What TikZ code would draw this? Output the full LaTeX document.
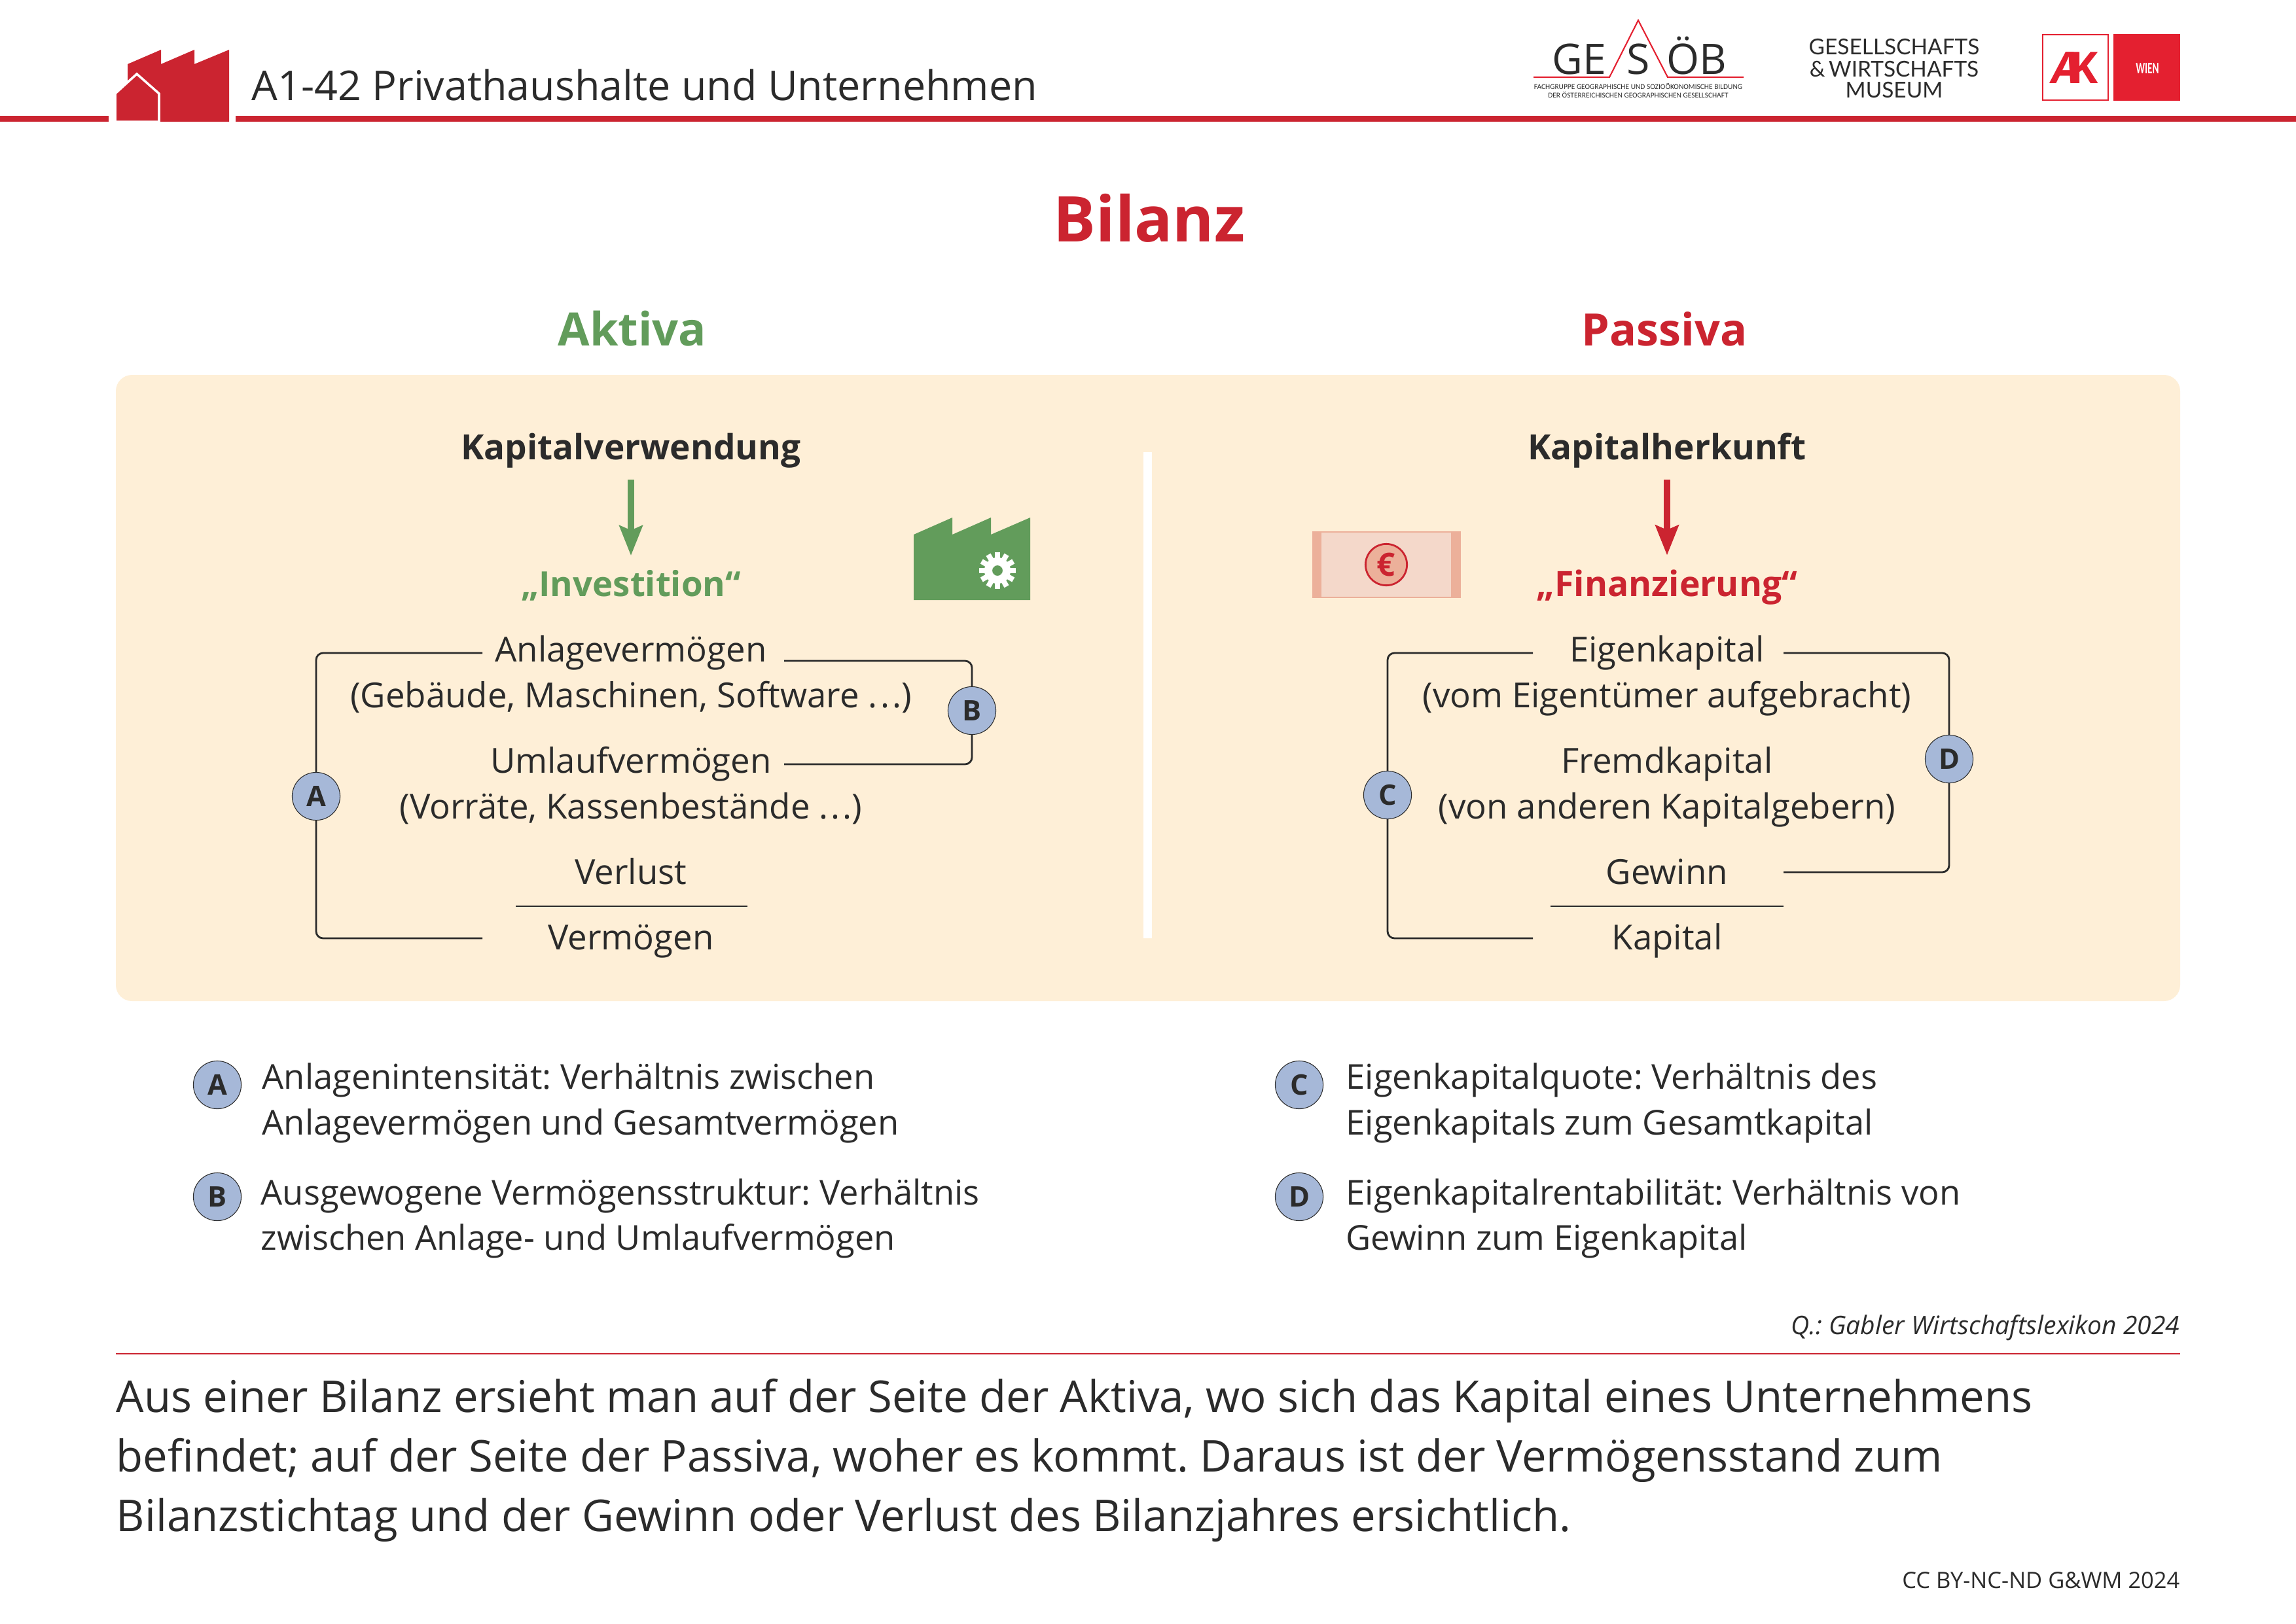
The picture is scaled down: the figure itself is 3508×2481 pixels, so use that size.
\documentclass[tikz,border=0pt]{standalone}
\usepackage{fontspec}
\setmainfont{Open Sans}
\newfontfamily\logofont{Carlito}
\newfontfamily\museumfont{Lato}
\usetikzlibrary{arrows.meta}

\definecolor{rot}{HTML}{CB2430}
\definecolor{akrot}{HTML}{E42030}
\definecolor{gruen}{HTML}{629C5B}
\definecolor{ink}{HTML}{2B2B2B}
\definecolor{panel}{HTML}{FEEFD7}
\definecolor{kreis}{HTML}{A6B8D8}
\definecolor{noterand}{HTML}{ECB09A}
\definecolor{notefill}{HTML}{F4D8CA}

\newcommand{\pkte}{.\kern1.2pt.\kern1.2pt.}

\tikzset{
    txt/.style={anchor=base, inner sep=0pt, text=ink, font=\frenchspacing\fontsize{15}{18}\selectfont},
    headbold/.style={txt, font=\fontsize{15.1}{18}\selectfont\bfseries},
    legtxt/.style={txt, anchor=base west, font=\frenchspacing\fontsize{14.9}{18}\selectfont},
    abstxt/.style={txt, anchor=base west, font=\frenchspacing\fontsize{19.05}{24}\selectfont},
    marker/.style={circle, draw=ink, line width=0.3pt, fill=kreis, minimum size=20.8pt, inner sep=0pt, text=ink, font=\fontsize{12.3}{15}\selectfont\bfseries},
    bracket/.style={draw=ink, line width=0.8pt, rounded corners=3pt},
    kapfeil/.style={line width=2.6pt, -{Stealth[length=13pt, width=10pt, inset=2pt]}, shorten <=5pt, shorten >=6pt}
}

\begin{document}
\begin{tikzpicture}[x=0.01cm, y=-0.01cm]
    \useasboundingbox (0,0) rectangle (3508,2481);

    % Kopfzeile
    \fill[rot] (0,177) rectangle (166,186);
    \fill[rot] (360,177) rectangle (3508,186);
    \fill[rot] (195,98) -- (246,76) -- (246,98) -- (297,76) -- (297,98) -- (350,76) -- (350,186) -- (195,186) -- cycle;
    \fill[rot, draw=white, line width=1pt] (176,186) -- (176,143) -- (209,113) -- (243,143) -- (243,186) -- cycle;
    \node[txt, anchor=base west, text=ink, font=\fontsize{17.85}{22}\selectfont] (kopf) at (384,153) {A1-42 Privathaushalte und Unternehmen};

    % Logo links
    \node[txt, font=\fontsize{18.3}{22}\selectfont] (lgGE) at (2413,113) {GE};
    \node[txt, font=\fontsize{18.3}{22}\selectfont] (lgS) at (2503,113) {S};
    \node[txt, font=\fontsize{18.3}{22}\selectfont] (lgOB) at (2592,113) {ÖB};
    \draw[akrot, line width=0.6pt] (2343,118) -- (2459,118) -- (2503,31) -- (2548,118) -- (2664,118);
    \node[txt, font=\logofont\fontsize{3.25}{4}\selectfont] (lgA) at (2503,136) {FACHGRUPPE GEOGRAPHISCHE UND SOZIOÖKONOMISCHE BILDUNG};
    \node[txt, font=\logofont\fontsize{3.25}{4}\selectfont] (lgB) at (2503,149) {DER ÖSTERREICHISCHEN GEOGRAPHISCHEN GESELLSCHAFT};

    % Logo Mitte
    \node[txt, font=\museumfont\fontsize{9.5}{10}\selectfont] (musA) at (2894,83) {GESELLSCHAFTS};
    \node[txt, font=\museumfont\fontsize{9.5}{10}\selectfont] (musB) at (2894,117) {\&\,WIRTSCHAFTS};
    \node[txt, font=\museumfont\fontsize{9.5}{10}\selectfont] (musC) at (2894,149) {MUSEUM};

    % Logo rechts
    \draw[akrot, line width=0.7pt] (3121,53) rectangle (3221,153);
    \fill[akrot] (3229,52) rectangle (3331,154);
    \node[txt, text=akrot, font=\fontsize{19}{20}\selectfont\bfseries] (ak) at (3171,127) {{\itshape A}\kern-4.5pt K};
    \node[txt, text=white, font=\logofont\fontsize{7}{8}\selectfont\bfseries, xscale=0.62, transform shape] (wien) at (3281,112) {WIEN};

    % Titel
    \node[txt, text=rot, font=\fontsize{27.4}{32}\selectfont\bfseries] (titel) at (1756,369) {Bilanz};
    \node[txt, text=gruen, font=\fontsize{20}{24}\selectfont\bfseries] (aktiva) at (966,528) {Aktiva};
    \node[txt, text=rot, font=\fontsize{19.4}{24}\selectfont\bfseries] (passiva) at (2543,528) {Passiva};

    % Hintergrund
    \fill[panel, rounded corners=7pt] (177,573) rectangle (3331,1530);
    \draw[white, line width=3.7pt] (1753.5,691) -- (1753.5,1434);

    % Fabrik
    \fill[gruen] (1396,917) -- (1396,817) -- (1455,791) -- (1455,817) -- (1514,791) -- (1514,817) -- (1574,791) -- (1574,917) -- cycle;
    \foreach \w in {0,30,...,330}
        \fill[white, rotate around={\w:(1524,872)}] (1520,844) rectangle (1528,860);
    \fill[white, even odd rule] (1524,872) circle (20) (1524,872) circle (8);

    % Geldschein
    \fill[noterand] (2005,812) rectangle (2232,914);
    \fill[notefill] (2019,814) rectangle (2217,912);
    \node[circle, draw=rot, line width=0.8pt, fill=noterand, minimum size=18pt, inner sep=0pt, text=rot, font=\fontsize{14}{16}\selectfont\bfseries] (euro) at (2118,863) {€};

    % Aktiva
    \node[headbold] (kapv) at (964,702) {Kapitalverwendung};
    \node[txt, text=gruen, font=\fontsize{15}{18}\selectfont\bfseries] (inv) at (964,911) {„Investition“};
    \draw[kapfeil, gruen] (kapv.south) -- (inv.north);
    \node[txt] (anl) at (964,1011) {Anlagevermögen};
    \node[txt] (anlb) at (964,1081) {(Gebäude, Maschinen, Software \pkte)};
    \node[txt] (uml) at (964,1181) {Umlaufvermögen};
    \node[txt] (umlb) at (964,1251) {(Vorräte, Kassenbestände \pkte)};
    \node[txt] (verl) at (964,1351) {Verlust};
    \node[txt] (verm) at (964,1451) {Vermögen};
    \draw[bracket] (788,1385) -- (1142,1385);
    \node[marker] (mA) at (483,1217) {A};
    \node[marker] (mB) at (1485,1086) {B};
    \coordinate (aoben) at (737,998);
    \coordinate (aunten) at (737,1434);
    \coordinate (boben) at (1198,1010);
    \coordinate (bunten) at (1198,1168);
    \draw[bracket] (aoben) -| (mA.north);
    \draw[bracket] (aunten) -| (mA.south);
    \draw[bracket] (boben) -| (mB.north);
    \draw[bracket] (bunten) -| (mB.south);

    % Passiva
    \node[headbold] (kaph) at (2547,702) {Kapitalherkunft};
    \node[txt, text=rot, font=\fontsize{15.2}{18}\selectfont\bfseries] (fin) at (2547,911) {„Finanzierung“};
    \draw[kapfeil, rot] (kaph.south) -- (fin.north);
    \node[txt] (ek) at (2547,1011) {Eigenkapital};
    \node[txt] (ekb) at (2547,1081) {(vom Eigentümer aufgebracht)};
    \node[txt] (fk) at (2547,1181) {Fremdkapital};
    \node[txt] (fkb) at (2547,1251) {(von anderen Kapitalgebern)};
    \node[txt] (gew) at (2547,1351) {Gewinn};
    \node[txt] (kap) at (2547,1451) {Kapital};
    \draw[bracket] (2369,1385) -- (2725,1385);
    \node[marker] (mC) at (2120,1215) {C};
    \node[marker] (mD) at (2978,1160) {D};
    \coordinate (coben) at (2342,998);
    \coordinate (cunten) at (2342,1434);
    \coordinate (doben) at (2725,998);
    \coordinate (dunten) at (2725,1333);
    \draw[bracket] (coben) -| (mC.north);
    \draw[bracket] (cunten) -| (mC.south);
    \draw[bracket] (doben) -| (mD.north);
    \draw[bracket] (dunten) -| (mD.south);

    % Legende
    \node[marker] (legA) at (332,1658) {A};
    \node[legtxt] (legAa) at (400,1664) {Anlagenintensität: Verhältnis zwischen};
    \node[legtxt] (legAb) at (400,1734) {Anlagevermögen und Gesamtvermögen};
    \node[marker] (legB) at (332,1829) {B};
    \node[legtxt] (legBa) at (398,1841) {Ausgewogene Vermögensstruktur: Verhältnis};
    \node[legtxt] (legBb) at (398,1910) {zwischen Anlage- und Umlaufvermögen};
    \node[marker] (legC) at (1985,1658) {C};
    \node[legtxt] (legCa) at (2056,1664) {Eigenkapitalquote: Verhältnis des};
    \node[legtxt] (legCb) at (2056,1734) {Eigenkapitals zum Gesamtkapital};
    \node[marker] (legD) at (1985,1829) {D};
    \node[legtxt] (legDa) at (2056,1841) {Eigenkapitalrentabilität: Verhältnis von};
    \node[legtxt] (legDb) at (2056,1910) {Gewinn zum Eigenkapital};

    % Fusszeile
    \node[txt, anchor=base east, font=\frenchspacing\fontsize{11.1}{13}\selectfont\itshape] (quelle) at (3331,2039) {Q.: Gabler Wirtschaftslexikon 2024};
    \draw[rot, line width=0.8pt] (177,2069) -- (3331,2069);
    \node[abstxt] (absA) at (177,2158) {Aus einer Bilanz ersieht man auf der Seite der Aktiva, wo sich das Kapital eines Unternehmens};
    \node[abstxt] (absB) at (177,2249) {befindet; auf der Seite der Passiva, woher es kommt. Daraus ist der Vermögensstand zum};
    \node[abstxt] (absC) at (177,2340) {Bilanzstichtag und der Gewinn oder Verlust des Bilanzjahres ersichtlich.};
    \node[txt, anchor=base east, font=\fontsize{9.8}{12}\selectfont] (cc) at (3331,2427) {CC BY-NC-ND G\&WM 2024};
\end{tikzpicture}
\end{document}
